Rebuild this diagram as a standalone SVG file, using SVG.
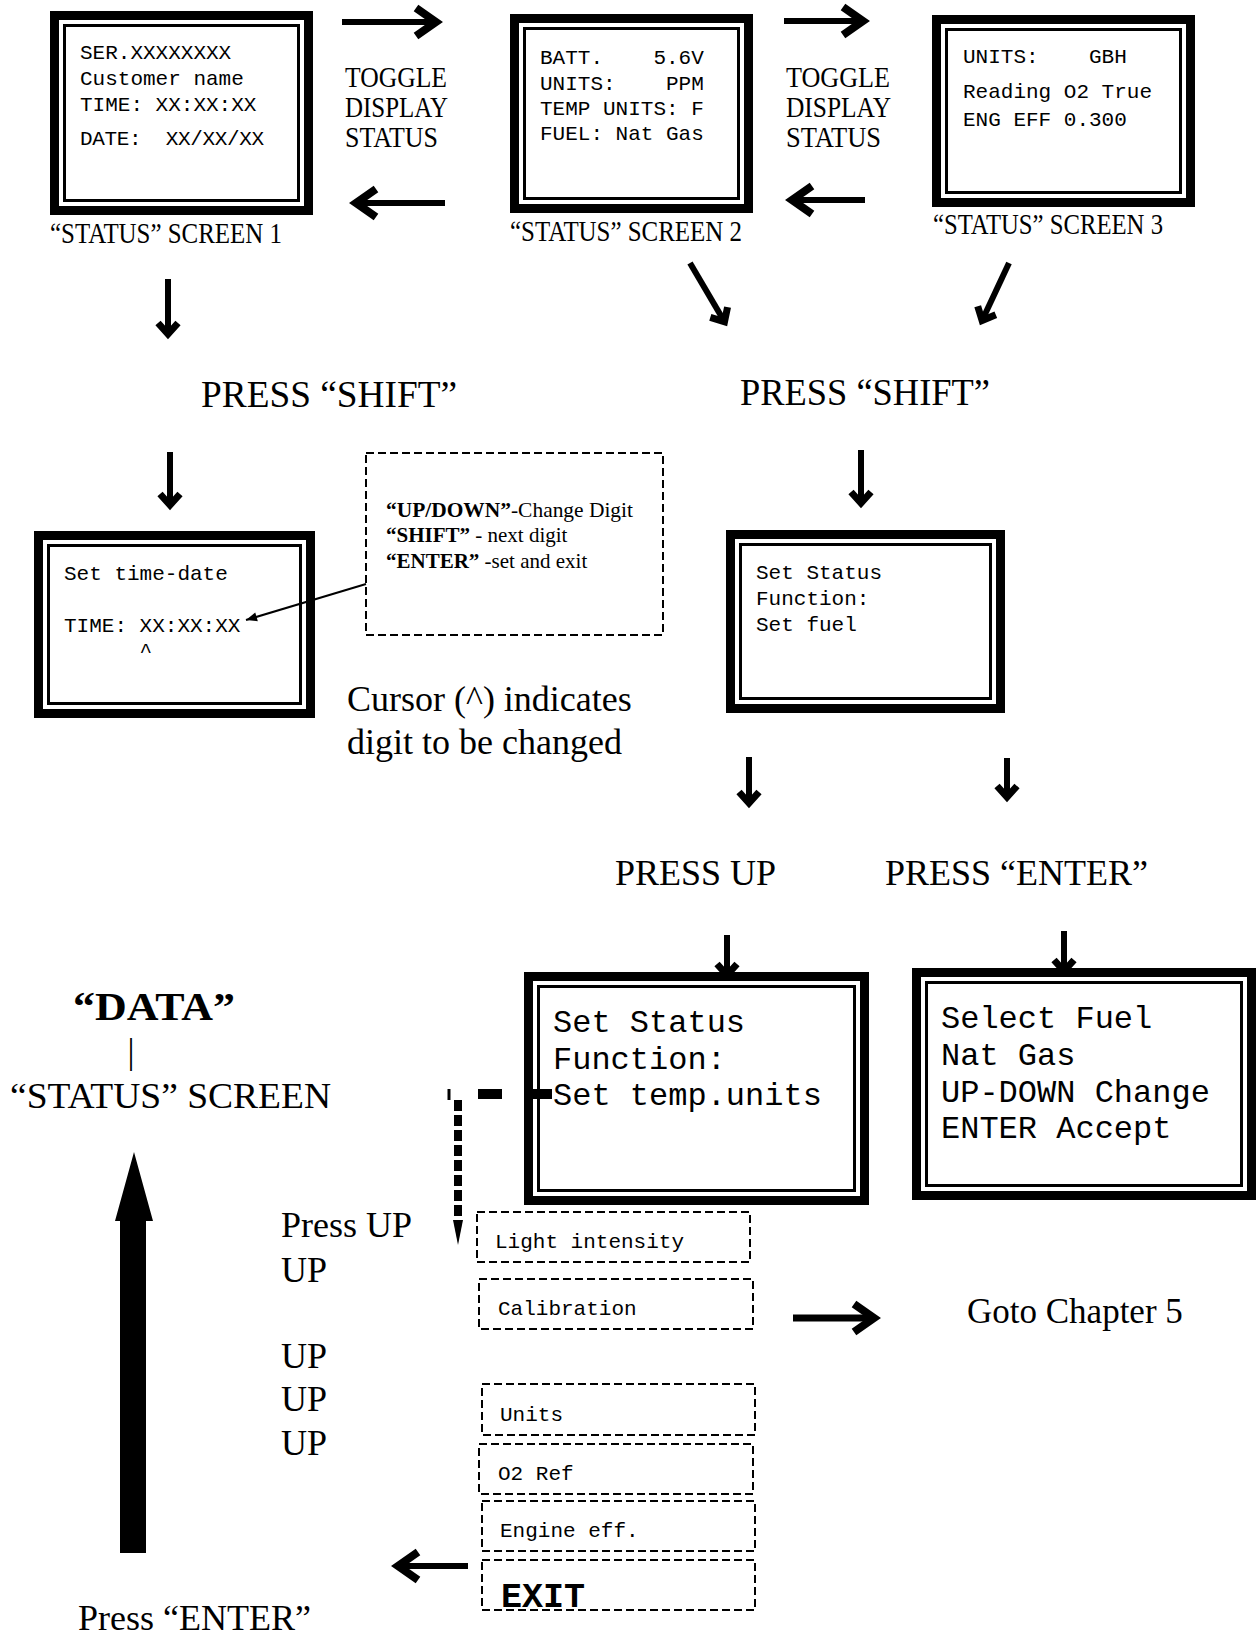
<svg xmlns="http://www.w3.org/2000/svg" width="1256" height="1635" viewBox="0 0 1256 1635">
<style>
  .bg { fill: #fff; }
  .mono { font-family: "Liberation Mono", "Courier New", monospace; font-size: 21px; fill: #000; white-space: pre; }
  .mono-l { font-size: 32px; }
  .serif { font-family: "Liberation Serif", "Times New Roman", serif; fill: #000; }
  .s30 { font-size: 30px; }
  .s36 { font-size: 36px; }
  .b { font-weight: bold; }
  .fo { fill: none; stroke: #000; stroke-width: 9; }
  .fi { fill: none; stroke: #000; stroke-width: 3; }
  .dbox { fill: none; stroke: #000; stroke-width: 2; stroke-dasharray: 8 4; }
  .arr { fill: none; stroke: #000; stroke-width: 6; }
  .big { marker-end: url(#ah); }
  .sml { marker-end: url(#as); }
</style>
<defs>
  <marker id="ah" viewBox="-30 -20 40 40" markerUnits="userSpaceOnUse" markerWidth="40" markerHeight="40" refX="0" refY="0" orient="auto">
    <path d="M-20,-14 L0,0 L-20,14" fill="none" stroke="#000" stroke-width="8"/>
  </marker>
  <marker id="as" viewBox="-30 -20 40 40" markerUnits="userSpaceOnUse" markerWidth="40" markerHeight="40" refX="0" refY="0" orient="auto">
    <path d="M-11,-10 L0,0 L-11,10" fill="none" stroke="#000" stroke-width="7"/>
  </marker>
  <marker id="tri" viewBox="-14 -7 16 14" markerUnits="userSpaceOnUse" markerWidth="16" markerHeight="14" refX="0" refY="0" orient="auto">
    <path d="M0,0 L-11,-4.5 L-11,4.5 Z" fill="#000"/>
  </marker>
</defs>
<rect class="bg" x="0" y="0" width="1256" height="1635"/>

<g id="screen1">
  <rect class="fo" x="54.5" y="15.5" width="254" height="195"/>
  <rect class="fi" x="64.5" y="25.5" width="234" height="175"/>
  <text class="mono" x="80" y="59">SER.XXXXXXXX</text>
  <text class="mono" x="80" y="85">Customer name</text>
  <text class="mono" x="80" y="111">TIME: XX:XX:XX</text>
  <text class="mono" x="80" y="145" textLength="184" lengthAdjust="spacing">DATE:  XX/XX/XX</text>
</g>
<text id="label1" class="serif s30" x="50" y="243" textLength="232" lengthAdjust="spacingAndGlyphs">“STATUS” SCREEN 1</text>

<g id="toggle1">
  <text class="serif s30" x="345" y="87" textLength="102" lengthAdjust="spacingAndGlyphs">TOGGLE</text>
  <text class="serif s30" x="345" y="117" textLength="103" lengthAdjust="spacingAndGlyphs">DISPLAY</text>
  <text class="serif s30" x="345" y="147" textLength="93" lengthAdjust="spacingAndGlyphs">STATUS</text>
</g>

<g id="screen2">
  <rect class="fo" x="514.5" y="18.5" width="234" height="190"/>
  <rect class="fi" x="524.5" y="28.5" width="214" height="170"/>
  <text class="mono" x="540" y="64">BATT.    5.6V</text>
  <text class="mono" x="540" y="90">UNITS:    PPM</text>
  <text class="mono" x="540" y="115">TEMP UNITS: F</text>
  <text class="mono" x="540" y="140">FUEL: Nat Gas</text>
</g>
<text id="label2" class="serif s30" x="510" y="241" textLength="232" lengthAdjust="spacingAndGlyphs">“STATUS” SCREEN 2</text>

<g id="toggle2">
  <text class="serif s30" x="786" y="87" textLength="104" lengthAdjust="spacingAndGlyphs">TOGGLE</text>
  <text class="serif s30" x="786" y="117" textLength="105" lengthAdjust="spacingAndGlyphs">DISPLAY</text>
  <text class="serif s30" x="786" y="147" textLength="95" lengthAdjust="spacingAndGlyphs">STATUS</text>
</g>

<g id="screen3">
  <rect class="fo" x="936.5" y="19.5" width="254" height="183"/>
  <rect class="fi" x="946.5" y="29.5" width="234" height="163"/>
  <text class="mono" x="963" y="63">UNITS:    GBH</text>
  <text class="mono" x="963" y="98">Reading O2 True</text>
  <text class="mono" x="963" y="126">ENG EFF 0.300</text>
</g>
<text id="label3" class="serif s30" x="933" y="234" textLength="230" lengthAdjust="spacingAndGlyphs">“STATUS” SCREEN 3</text>

<text id="shift1" class="serif" style="font-size:37px" x="201" y="407" textLength="256" lengthAdjust="spacingAndGlyphs">PRESS “SHIFT”</text>
<text id="shift2" class="serif" style="font-size:37px" x="740" y="405" textLength="250" lengthAdjust="spacingAndGlyphs">PRESS “SHIFT”</text>

<g id="timedate">
  <rect class="fo" x="38.5" y="535.5" width="272" height="178"/>
  <rect class="fi" x="48.5" y="545.5" width="252" height="158"/>
  <text class="mono" x="64" y="580">Set time-date</text>
  <text class="mono" x="64" y="632">TIME: XX:XX:XX</text>
  <text class="mono" x="64" y="657">      ^</text>
</g>

<g id="helpbox">
  <rect class="dbox" x="366" y="453" width="297" height="182"/>
  <text class="serif" style="font-size:21px" x="386" y="517" textLength="247" lengthAdjust="spacingAndGlyphs"><tspan class="b">“UP/DOWN”</tspan>-Change Digit</text>
  <text class="serif" style="font-size:21px" x="386" y="542"><tspan class="b">“SHIFT”</tspan> - next digit</text>
  <text class="serif" style="font-size:21px" x="386" y="568"><tspan class="b">“ENTER”</tspan> -set and exit</text>
</g>

<g id="cursor-note">
  <text class="serif s36" x="347" y="711">Cursor (^) indicates</text>
  <text class="serif s36" x="347" y="754">digit to be changed</text>
</g>

<g id="setfuel">
  <rect class="fo" x="730.5" y="534.5" width="270" height="174"/>
  <rect class="fi" x="740.5" y="544.5" width="250" height="154"/>
  <text class="mono" x="756" y="579">Set Status</text>
  <text class="mono" x="756" y="605">Function:</text>
  <text class="mono" x="756" y="631">Set fuel</text>
</g>

<text id="pressup" class="serif s36" x="615" y="885">PRESS UP</text>
<text id="pressenter" class="serif s36" x="885" y="885">PRESS “ENTER”</text>

<g id="tempunits">
  <rect class="fo" x="528.5" y="976.5" width="336" height="224"/>
  <rect class="fi" x="538.5" y="986.5" width="316" height="204"/>
  <text class="mono mono-l" x="553" y="1032">Set Status</text>
  <text class="mono mono-l" x="553" y="1069">Function:</text>
  <text class="mono mono-l" x="553" y="1105">Set temp.units</text>
</g>

<g id="selectfuel">
  <rect class="fo" x="916.5" y="972.5" width="335" height="223"/>
  <rect class="fi" x="926.5" y="982.5" width="315" height="203"/>
  <text class="mono mono-l" x="941" y="1028">Select Fuel</text>
  <text class="mono mono-l" x="941" y="1065">Nat Gas</text>
  <text class="mono mono-l" x="941" y="1102">UP-DOWN Change</text>
  <text class="mono mono-l" x="941" y="1138">ENTER Accept</text>
</g>

<g id="data-label">
  <text class="serif b" style="font-size:40px" x="73" y="1020" textLength="162" lengthAdjust="spacingAndGlyphs">“DATA”</text>
  <text class="serif" style="font-size:35px" x="131" y="1063" text-anchor="middle">|</text>
  <text class="serif s36" x="10" y="1108" textLength="321" lengthAdjust="spacingAndGlyphs">“STATUS” SCREEN</text>
</g>

<g id="press-up-list">
  <text class="serif s36" x="281" y="1237">Press UP</text>
  <text class="serif s36" x="281" y="1282">UP</text>
  <text class="serif s36" x="281" y="1368">UP</text>
  <text class="serif s36" x="281" y="1411">UP</text>
  <text class="serif s36" x="281" y="1455">UP</text>
</g>

<text id="press-enter-bottom" class="serif s36" x="78" y="1630">Press “ENTER”</text>

<g id="item-light"><rect class="dbox" x="477" y="1212" width="273" height="50"/><text class="mono" x="495" y="1248">Light intensity</text></g>
<g id="item-calib"><rect class="dbox" x="479" y="1279" width="274" height="50"/><text class="mono" x="498" y="1315">Calibration</text></g>
<g id="item-units"><rect class="dbox" x="482" y="1384" width="273" height="51"/><text class="mono" x="500" y="1421">Units</text></g>
<g id="item-o2"><rect class="dbox" x="479" y="1444" width="274" height="50"/><text class="mono" x="498" y="1480">O2 Ref</text></g>
<g id="item-engine"><rect class="dbox" x="482" y="1501" width="273" height="50"/><text class="mono" x="500" y="1537">Engine eff.</text></g>
<g id="item-exit"><rect class="dbox" x="482" y="1560" width="273" height="50"/><text class="mono b" style="font-size:35px" x="501" y="1607">EXIT</text></g>

<text id="goto" class="serif" style="font-size:35px" x="967" y="1323">Goto Chapter 5</text>

<g id="connectors">
  <line class="arr big" x1="342" y1="22" x2="436" y2="22"/>
  <line class="arr big" x1="445" y1="203" x2="356" y2="203"/>
  <line class="arr big" x1="784" y1="21" x2="863" y2="21"/>
  <line class="arr big" x1="865" y1="200" x2="792" y2="200"/>
  <line class="arr sml" x1="168" y1="279" x2="168" y2="334"/>
  <line class="arr sml" x1="690" y1="263" x2="724.5" y2="321.7"/>
  <line class="arr sml" x1="1009" y1="263" x2="982.1" y2="320.5"/>
  <line class="arr sml" x1="170" y1="452" x2="170" y2="505"/>
  <line class="arr sml" x1="861" y1="450" x2="861" y2="503"/>
  <line class="arr sml" x1="749" y1="757" x2="749" y2="803"/>
  <line class="arr sml" x1="1007" y1="758" x2="1007" y2="797"/>
  <line class="arr sml" x1="727" y1="935" x2="727" y2="975"/>
  <line class="arr sml" x1="1064" y1="931" x2="1064" y2="971"/>
  <line class="arr big" style="stroke-width:7" x1="793" y1="1318" x2="874" y2="1318"/>
  <line class="arr big" x1="468" y1="1566" x2="398" y2="1566"/>
  <line x1="366" y1="584" x2="246" y2="620" stroke="#000" stroke-width="2" marker-end="url(#tri)"/>
  <path d="M120,1553 L146,1553 L146,1221 L153,1221 L134,1152 L115,1221 L120,1221 Z" fill="#000"/>
  <line x1="552" y1="1094" x2="478" y2="1094" stroke="#000" stroke-width="10" stroke-dasharray="24 26"/>
  <line x1="449" y1="1089" x2="449" y2="1100" stroke="#000" stroke-width="3"/>
  <line x1="458" y1="1100" x2="458" y2="1222" stroke="#000" stroke-width="8" stroke-dasharray="11 4"/>
  <path d="M453,1220 L463,1220 L458,1245 Z" fill="#000"/>
</g>
</svg>
